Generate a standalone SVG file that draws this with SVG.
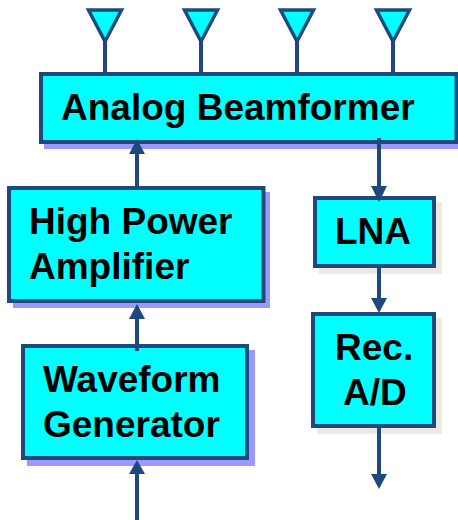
<svg xmlns="http://www.w3.org/2000/svg" width="458" height="520" viewBox="0 0 458 520">
<style>
.box{fill:#00ffff;stroke:#1f497d;stroke-width:4}
.sh1{fill:#9999ff}
.sh2{fill:#eeeae0}
.ant{fill:#00ffff;stroke:#1f497d;stroke-width:3.500}
.ln{stroke:#1f497d;stroke-width:4;fill:none}
.hd{fill:#1f497d}
text{font-family:"Liberation Sans",Arial,sans-serif;font-weight:bold;font-size:37px;fill:#000}
</style>
<g id="antenna1"><path class="ant" d="M88.500 10H121.500L105 41.500Z"/></g>
<g id="antenna2"><path class="ant" d="M184.500 10H217.500L201 41.500Z"/></g>
<g id="antenna3"><path class="ant" d="M280.500 10H313.500L297 41.500Z"/></g>
<g id="antenna4"><path class="ant" d="M376.500 10H409.500L393 41.500Z"/></g>
<g id="beamformer"><rect class="sh1" x="44" y="79" width="414" height="70"/><rect class="box" x="41" y="74" width="415.500" height="68"/><text x="61" y="120">Analog Beamformer</text></g>
<g id="hpa"><rect class="sh1" x="13" y="192" width="257" height="116"/><rect class="box" x="9" y="188" width="254.500" height="113"/><text x="29" y="233.500">High Power</text><text x="29" y="278.500">Amplifier</text></g>
<g id="waveform"><rect class="sh1" x="27" y="350" width="228" height="116"/><rect class="box" x="23" y="346" width="224" height="112"/><text x="43" y="392">Waveform</text><text x="43" y="436.500">Generator</text></g>
<g id="lna"><rect class="sh2" x="319" y="202" width="123" height="72"/><rect class="box" x="315" y="198" width="119" height="68"/><text x="335" y="244">LNA</text></g>
<g id="recad"><rect class="sh2" x="317" y="318" width="125" height="116"/><rect class="box" x="313" y="314" width="121" height="112"/><text x="335" y="360">Rec.</text><text x="343" y="405">A/D</text></g>
<g id="connectors">
<path class="ln" d="M105 41V72M201 41V72M297 41V72M393 41V72"/>
<path class="ln" d="M137 152V186M137 317V351M137 472V520"/>
<path class="ln" d="M379 138V188M379 268V300M379 428V476"/>
<path class="hd" d="M137 139L145 154H129Z"/>
<path class="hd" d="M137 304L145 319H129Z"/>
<path class="hd" d="M137 460L145 474H129Z"/>
<path class="hd" d="M379 202L371 186H387Z"/>
<path class="hd" d="M379 313L371 298H387Z"/>
<path class="hd" d="M379 489L371 474H387Z"/>
</g>
</svg>
